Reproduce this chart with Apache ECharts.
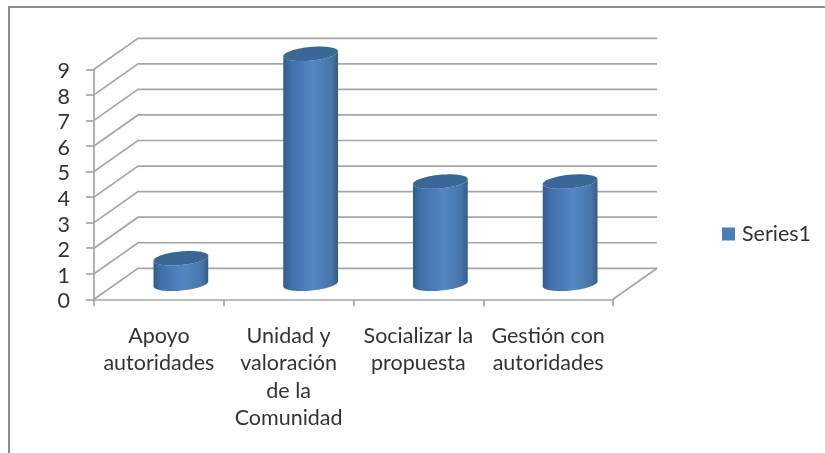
<!DOCTYPE html>
<html><head><meta charset="utf-8">
<style>html,body{margin:0;padding:0;background:#fff}#c{width:825px;height:453px}</style>
<script src="https://cdn.jsdelivr.net/npm/echarts@6/dist/echarts.min.js"></script>
</head><body><div id="c"></div>
<script>
const categories = ['Apoyo\nautoridades', 'Unidad y\nvaloración\nde la\nComunidad', 'Socializar la\npropuesta', 'Gestión con\nautoridades'];
const values = [1, 9, 4, 4];
const yTicks = [0, 1, 2, 3, 4, 5, 6, 7, 8, 9];
const seriesName = 'Series1';

const DX = 44, DY = -31;          // depth of the 3D box
const R = 27.5, RY = 6.8, TILT = -5.5 * Math.PI / 180;
const BAR_DX = 22, BAR_DY = -15.5;
const LINE = '#a6a6a6', LW = 1.7;

function ellipsePt(cx, cy, t) {
  const x = R * Math.cos(t), y = RY * Math.sin(t);
  return [cx + x * Math.cos(TILT) - y * Math.sin(TILT), cy + x * Math.sin(TILT) + y * Math.cos(TILT)];
}
function wall(params, api) {
  const v = api.value(0);
  const a = api.coord([0, v]), n = categories.length;
  const size = api.size([1, 0])[0];
  const left = a[0] - size / 2, right = left + size * n, y = a[1];
  const style = { stroke: LINE, lineWidth: LW, fill: null };
  const pts = [[left, y], [left + DX, y + DY], [right + DX, y + DY]];
  const children = [{ type: 'polyline', shape: { points: pts }, style }];
  if (v === 0) children.push({ type: 'line', shape: { x1: right, y1: y, x2: right + DX, y2: y + DY }, style });
  return { type: 'group', children };
}
function cylinder(params, api) {
  const c = api.value(0), v = api.value(1);
  const base = api.coord([c, 0]), top = api.coord([c, v]);
  const cx = base[0] + BAR_DX, by = base[1] + BAR_DY, ty = top[1] + BAR_DY;
  const body = [];
  const steps = 40;
  for (let i = 0; i <= steps; i++) body.push(ellipsePt(cx, by, Math.PI * i / steps));
  for (let i = 0; i <= steps; i++) body.push(ellipsePt(cx, ty, Math.PI * (1 - i / steps)));
  const cap = [];
  for (let i = 0; i < 80; i++) cap.push(ellipsePt(cx, ty, 2 * Math.PI * i / 80));
  const grad = new echarts.graphic.LinearGradient(0, 0, 1, 0, [
    { offset: 0, color: '#315b8d' }, { offset: 0.14, color: '#4070aa' },
    { offset: 0.55, color: '#5386c6' }, { offset: 0.88, color: '#4876a8' }, { offset: 1, color: '#315b8d' }
  ]);
  return { type: 'group', children: [
    { type: 'polygon', shape: { points: body }, style: { fill: grad } },
    { type: 'polygon', shape: { points: cap }, style: { fill: '#3b6797' } }
  ] };
}

const chart = echarts.init(document.getElementById('c'), null, { renderer: 'canvas' });
const font = 'Lato';
chart.setOption({
  animation: false,
  backgroundColor: '#fff',
  grid: { left: 94, top: 69.3, width: 519, height: 230 },
  legend: {
    left: 717, top: 218, icon: 'rect', itemWidth: 13, itemHeight: 13, itemGap: 0,
    data: [{ name: seriesName, itemStyle: { color: '#4a7ebb' } }],
    textStyle: { fontFamily: font, fontSize: 21.5, color: '#333', padding: [0, 0, 0, 2] }
  },
  xAxis: {
    type: 'category', data: categories, boundaryGap: true,
    axisLine: { lineStyle: { color: LINE, width: LW } },
    axisTick: { show: true, alignWithLabel: false, length: 7, lineStyle: { color: LINE, width: LW } },
    axisLabel: { interval: 0, margin: 23, fontFamily: font, fontSize: 21.5, color: '#333', lineHeight: 27.5, align: 'center' }
  },
  yAxis: {
    type: 'value', min: 0, max: 9, interval: 1,
    splitLine: { show: false },
    axisLine: { show: true, lineStyle: { color: LINE, width: LW } },
    axisTick: { show: true, length: 8, lineStyle: { color: LINE, width: LW } },
    axisLabel: { margin: 24, fontFamily: font, fontSize: 21.5, color: '#333', verticalAlign: 'top', lineHeight: 4 }
  },
  graphic: [{ type: 'rect', silent: true, z: -1, shape: { x: 9, y: 7, width: 830, height: 470 }, style: { fill: null, stroke: '#8c8c8c', lineWidth: 2 } }],
  series: [
    { type: 'custom', name: 'wall', coordinateSystem: 'cartesian2d', renderItem: wall, data: yTicks.map(v => [v]), encode: { x: -1, y: 0 }, z: 1, silent: true, clip: false },
    { type: 'custom', name: seriesName, coordinateSystem: 'cartesian2d', renderItem: cylinder, data: values.map((v, i) => [i, v]), encode: { x: 0, y: 1 }, z: 2, itemStyle: { color: '#4a7ebb' }, clip: false }
  ]
});
</script></body></html>
